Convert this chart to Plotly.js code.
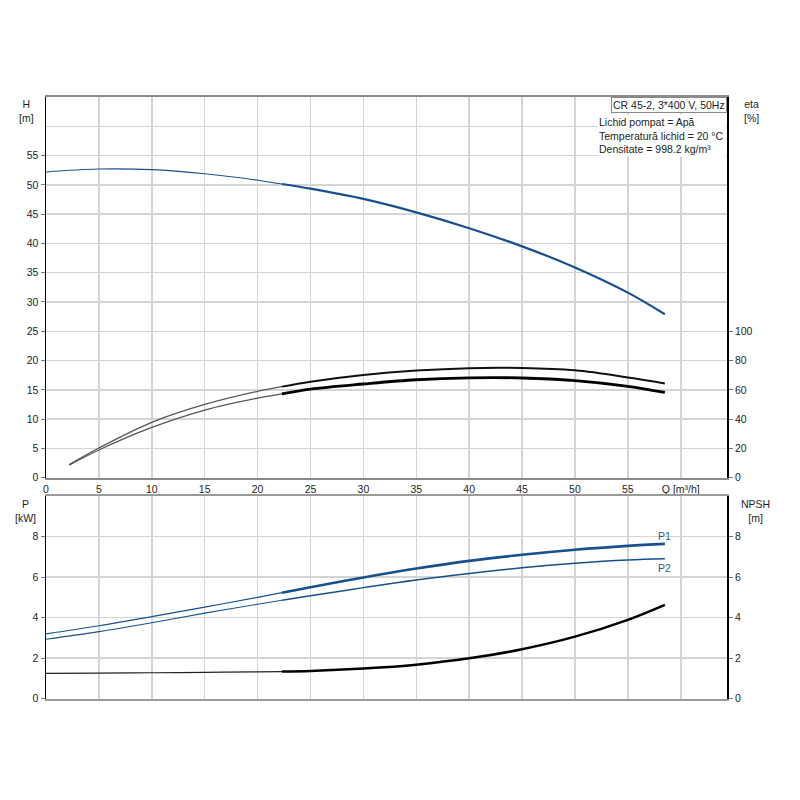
<!DOCTYPE html>
<html>
<head>
<meta charset="utf-8">
<script src="https://cdn.plot.ly/plotly-3.0.1.min.js"></script>
<style>html,body{margin:0;padding:0;background:#fff;}#chart{width:800px;height:800px;}</style>
</head>
<body>
<div id="chart"></div>
<script>
// ---- data ----
const qPump = [0, 5, 10, 15, 20, 22.3, 25, 30, 35, 40, 45, 50, 55, 58.5];
const head  = [52.2, 52.7, 52.6, 51.9, 50.8, 50.15, 49.35, 47.6, 45.3, 42.6, 39.5, 35.9, 31.6, 27.9];

const qEta     = [2.2, 5, 10, 15, 20, 22.3, 25, 30, 35, 40, 45, 50, 55, 58.5];
const etaUpper = [9.0, 20.3, 37.8, 50.0, 59.0, 62.2, 65.6, 70.2, 73.2, 74.8, 74.9, 73.3, 68.5, 64.4];
const etaLower = [8.6, 18.9, 34.3, 46.2, 54.4, 57.3, 60.5, 64.0, 66.9, 68.2, 68.1, 66.3, 62.4, 58.2];

const powerP1 = [3.20, 3.60, 4.05, 4.52, 5.00, 5.23, 5.50, 5.98, 6.42, 6.80, 7.10, 7.35, 7.54, 7.64];
const powerP2 = [2.93, 3.31, 3.75, 4.22, 4.66, 4.86, 5.08, 5.48, 5.86, 6.18, 6.46, 6.68, 6.84, 6.90];
const npsh    = [1.25, 1.26, 1.28, 1.30, 1.32, 1.34, 1.37, 1.49, 1.68, 1.99, 2.44, 3.06, 3.89, 4.63];

const qSplit = 22.3; // where curves switch from thin to thick (duty range)

const qTicks = [0, 5, 10, 15, 20, 25, 30, 35, 40, 45, 50, 55, 60];
const qTickText = ["0","5","10","15","20","25","30","35","40","45","50","55","Q [m³/h]"];
const hTicks = [0, 5, 10, 15, 20, 25, 30, 35, 40, 45, 50, 55];
const etaTicks = [0, 20, 40, 60, 80, 100];
const pTicks = [0, 2, 4, 6, 8];
const npshTicks = [0, 2, 4, 6, 8];

// ---- styling ----
const BLUE = '#17508c';
const GRID = '#d4d4d4';
const TXT = '#1e1e1e';
const FONT = 'Liberation Sans, Arial, sans-serif';

function part(xs, ys, lowPart) {
  const x = [], y = [];
  xs.forEach((v, i) => {
    if (lowPart ? v <= qSplit : v >= qSplit) { x.push(v); y.push(ys[i]); }
  });
  return {x, y};
}
function tr(xs, ys, low, xa, ya, color, width) {
  const p = part(xs, ys, low);
  return {x: p.x, y: p.y, xaxis: xa, yaxis: ya, type: 'scatter', mode: 'lines',
          line: {color: color, width: width, shape: 'spline', smoothing: 1.0},
          hoverinfo: 'skip', showlegend: false};
}

const traces = [
  tr(qPump, head, true,  'x', 'y', BLUE, 1.1),
  tr(qPump, head, false, 'x', 'y', BLUE, 2.2),
  tr(qEta, etaUpper, true,  'x', 'y3', '#555', 1.3),
  tr(qEta, etaUpper, false, 'x', 'y3', '#111', 2.0),
  tr(qEta, etaLower, true,  'x', 'y3', '#555', 1.3),
  tr(qEta, etaLower, false, 'x', 'y3', '#000', 2.8),
  tr(qPump, powerP1, true,  'x2', 'y2', BLUE, 1.2),
  tr(qPump, powerP1, false, 'x2', 'y2', BLUE, 2.6),
  tr(qPump, powerP2, true,  'x2', 'y2', BLUE, 1.1),
  tr(qPump, powerP2, false, 'x2', 'y2', BLUE, 1.5),
  tr(qPump, npsh, true,  'x2', 'y4', '#222', 1.2),
  tr(qPump, npsh, false, 'x2', 'y4', '#000', 2.5)
];

const xDom = [46/800, 727.3/800];
const topDom = [1 - 477.7/800, 1 - 97/800];
const botDom = [1 - 698.7/800, 1 - 496/800];
const tickFont = {family: FONT, size: 10.5, color: TXT};

const last = powerP1.length - 1;

const layout = {
  width: 800, height: 800,
  margin: {l: 0, r: 0, t: 0, b: 0},
  paper_bgcolor: '#fff', plot_bgcolor: '#fff',
  font: {family: FONT, size: 10.5, color: TXT},
  showlegend: false,
  xaxis: {domain: xDom, anchor: 'y', range: [0, 64.4], tickvals: qTicks, ticktext: qTickText,
          ticks: '', showgrid: true, gridcolor: GRID, gridwidth: 1.5, zeroline: false,
          showline: true, linecolor: '#8a8a8a', linewidth: 2.2, mirror: true,
          tickfont: tickFont, ticklabelstandoff: 0},
  yaxis: {domain: topDom, anchor: 'x', range: [0, 65], tickvals: hTicks,
          ticks: 'outside', ticklen: 4, tickcolor: '#777', tickwidth: 1,
          showgrid: true, gridcolor: GRID, gridwidth: 1.5, zeroline: false,
          showline: true, linecolor: '#000', linewidth: 1.5,
          minor: {tickvals: [60], showgrid: true, gridcolor: GRID, gridwidth: 1.5, ticks: ''},
          tickfont: tickFont},
  yaxis3: {overlaying: 'y', side: 'right', anchor: 'x', range: [0, 260], tickvals: etaTicks,
           ticks: 'outside', ticklen: 4, tickcolor: '#777', showgrid: false, zeroline: false,
           showline: true, linecolor: '#000', linewidth: 1.5, tickfont: tickFont},
  xaxis2: {domain: xDom, anchor: 'y2', range: [0, 64.4], tickvals: qTicks, showticklabels: false,
           ticks: '', showgrid: true, gridcolor: GRID, gridwidth: 1.5, zeroline: false,
           showline: true, linecolor: '#9a9a9a', linewidth: 2, mirror: true},
  yaxis2: {domain: botDom, anchor: 'x2', range: [0, 10], tickvals: pTicks,
           ticks: 'outside', ticklen: 4, tickcolor: '#777',
           showgrid: true, gridcolor: GRID, gridwidth: 1.5, zeroline: false,
           showline: true, linecolor: '#000', linewidth: 1.5, tickfont: tickFont},
  yaxis4: {overlaying: 'y2', side: 'right', anchor: 'x2', range: [0, 10], tickvals: npshTicks,
           ticks: 'outside', ticklen: 4, tickcolor: '#777', showgrid: false, zeroline: false,
           showline: true, linecolor: '#000', linewidth: 1.5, tickfont: tickFont},
  annotations: [
    {xref: 'paper', yref: 'paper', x: 26/800, y: 1 - 96/800, xanchor: 'center', yanchor: 'top',
     text: 'H<br>[m]', showarrow: false, align: 'center', font: {family: FONT, size: 10.5, color: TXT}},
    {xref: 'paper', yref: 'paper', x: 751/800, y: 1 - 96/800, xanchor: 'center', yanchor: 'top',
     text: 'eta<br>[%]', showarrow: false, align: 'center', font: {family: FONT, size: 10.5, color: TXT}},
    {xref: 'paper', yref: 'paper', x: 25/800, y: 1 - 496/800, xanchor: 'center', yanchor: 'top',
     text: 'P<br>[kW]', showarrow: false, align: 'center', font: {family: FONT, size: 10.5, color: TXT}},
    {xref: 'paper', yref: 'paper', x: 755/800, y: 1 - 496/800, xanchor: 'center', yanchor: 'top',
     text: 'NPSH<br>[m]', showarrow: false, align: 'center', font: {family: FONT, size: 10.5, color: TXT}},
    {xref: 'paper', yref: 'paper', x: 726.5/800, y: 1 - 97.5/800, xanchor: 'right', yanchor: 'top',
     text: 'CR 45-2, 3*400 V, 50Hz', showarrow: false, bgcolor: '#fff', bordercolor: '#888',
     borderwidth: 1, borderpad: 1, font: {family: FONT, size: 10.5, color: TXT}},
    {xref: 'paper', yref: 'paper', x: 597/800, y: 1 - 114/800, xanchor: 'left', yanchor: 'top',
     text: 'Lichid pompat = Apă<br>Temperatură lichid = 20 °C<br>Densitate = 998.2 kg/m³',
     showarrow: false, align: 'left', bgcolor: '#fff', borderpad: 1,
     font: {family: FONT, size: 10.5, color: TXT}},
    {xref: 'x2', yref: 'y2', x: qPump[last], y: powerP1[last], xanchor: 'right', yanchor: 'bottom',
     xshift: 8, yshift: 0, text: 'P1', showarrow: false, font: {family: FONT, size: 10.5, color: '#2b5a8a'}},
    {xref: 'x2', yref: 'y2', x: qPump[last], y: powerP2[last], xanchor: 'right', yanchor: 'top',
     xshift: 8, yshift: -1, text: 'P2', showarrow: false, font: {family: FONT, size: 10.5, color: '#2b5a8a'}}
  ]
};

Plotly.newPlot('chart', traces, layout, {staticPlot: true, displayModeBar: false});
</script>
</body>
</html>
